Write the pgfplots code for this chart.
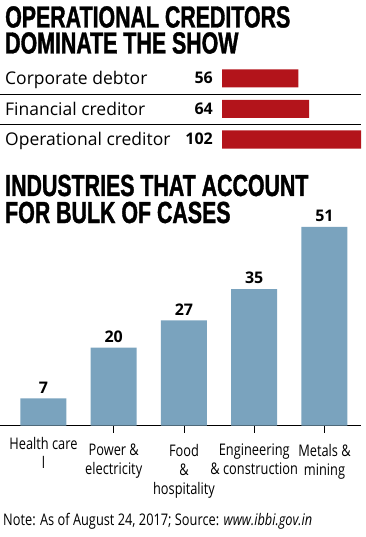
\documentclass[border=0pt]{standalone}
\usepackage{fontspec}
\usepackage{pgfplots}
\pgfplotsset{compat=1.18}
\setmainfont{Open Sans}
\newfontfamily\titlefont[FakeStretch=0.7, FakeBold=1.2]{Liberation Sans}
\newfontfamily\condfont[FakeStretch=0.8]{Open Sans}
\definecolor{barblue}{HTML}{7AA3BE}
\definecolor{barred}{HTML}{B3141B}
\newcommand{\ttl}{\titlefont\bfseries\fontsize{30.5bp}{30.5bp}\selectfont}
\newcommand{\rowf}{\fontsize{17.5bp}{20bp}\selectfont}
\newcommand{\valf}{\bfseries\fontsize{16bp}{18bp}\selectfont}
\newcommand{\labf}{\condfont\fontsize{16bp}{19bp}\selectfont}
\pgfplotsset{/pgf/number format/assume math mode=true}
\tikzset{ttlnode/.style={anchor=base west, inner sep=0pt, font=\ttl, text height=22bp, text depth=0pt}}
\begin{document}
\begin{tikzpicture}[x=1bp,y=1bp]
\useasboundingbox (0,0) rectangle (365,-537);
% titles
\node[ttlnode] at (5,-27.5) {OPERATIONAL CREDITORS};
\node[ttlnode] at (5,-53.5) {DOMINATE THE SHOW};
\node[ttlnode] at (5,-196) {INDUSTRIES THAT ACCOUNT};
\node[ttlnode] at (5,-223) {FOR BULK OF CASES};
% separators
\draw[line width=0.9bp] (0,-94) -- (361,-94);
\draw[line width=0.9bp] (0,-124.5) -- (361,-124.5);
% top chart
\begin{axis}[at={(222bp,-63.25bp)}, anchor=north west, scale only axis,
  width=139bp, height=91.5bp, xmin=0, xmax=102, ymin=-0.5, ymax=2.5,
  y dir=reverse, hide axis, clip=false]
\addplot[xbar, bar width=18bp, fill=barred, draw=none] coordinates {(56,0) (64,1) (102,2)};
\addplot[draw=none, mark=none, nodes near coords, point meta=explicit,
  nodes near coords style={anchor=base east, inner sep=0pt, xshift=-9bp, yshift=-5.5bp, font=\valf}]
  coordinates {(0,0) [56] (0,1) [64] (0,2) [102]};
\addplot[draw=none, mark=none, nodes near coords={\pgfplotspointmeta}, point meta=explicit symbolic,
  nodes near coords style={anchor=base west, inner sep=0pt, xshift=-217bp, yshift=-6.5bp, font=\rowf}]
  coordinates {(0,0) [Corporate debtor] (0,1) [Financial creditor] (0,2) [Operational creditor]};
\end{axis}
% bottom chart
\begin{axis}[at={(0bp,-425.7bp)}, anchor=south west, scale only axis,
  width=361bp, height=214.5bp, xmin=-0.619, xmax=4.52, ymin=0, ymax=55,
  axis x line*=bottom, axis y line=none, clip=false,
  axis line style={line width=0.9bp},
  xtick={1,2,3,4},
  xticklabels={{Power \&\\electricity},{Food\\\&\\hospitality},{Engineering\\\& construction},{Metals \&\\mining}},
  extra x ticks={0}, extra x tick labels={{Health care\\l}},
  extra x tick style={major tick length=0pt},
  xtick align=outside, major tick length=7bp,
  x tick style={black, line width=0.9bp},
  xticklabel style={align=center, font=\labf, inner sep=0pt, yshift=-11bp},
  ytick=\empty]
\addplot[ybar, bar width=46bp, fill=barblue, draw=none, nodes near coords,
  nodes near coords style={anchor=south, inner sep=0pt, yshift=5bp, font=\valf}]
  coordinates {(0,7) (1,20) (2,27) (3,35) (4,51)};
\end{axis}
% note
\node[anchor=base west, inner sep=0pt, font=\labf] at (3,-525) {Note: As of August 24, 2017; Source: \textit{www.ibbi.gov.in}};
\end{tikzpicture}
\end{document}
